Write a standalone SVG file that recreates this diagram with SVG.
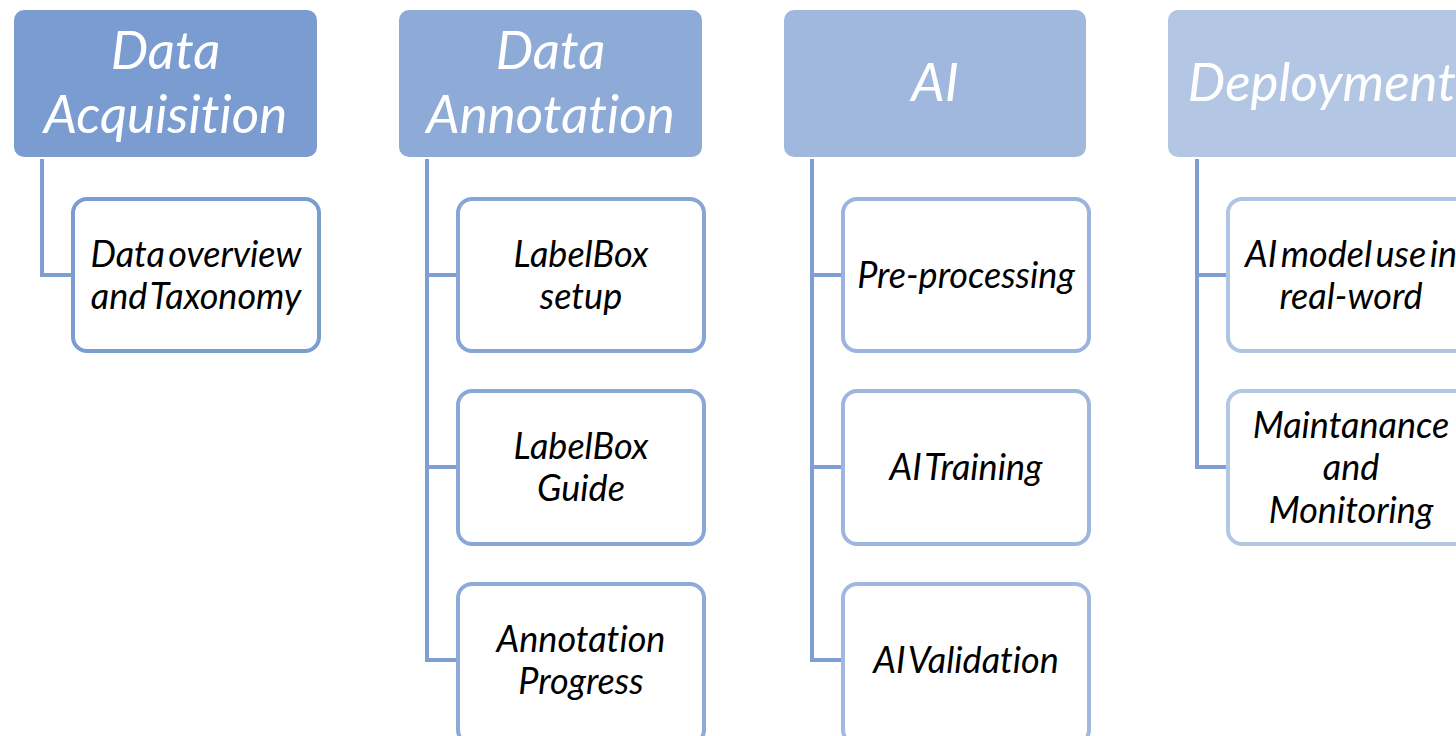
<svg xmlns="http://www.w3.org/2000/svg" width="1456" height="736" viewBox="0 0 1456 736">
<style>
.hd{stroke:none}
.ch{fill:#ffffff;stroke-width:4}
.ht{font-family:Lato,"Open Sans",sans-serif;font-style:italic;font-size:53px;fill:#ffffff;text-anchor:middle;font-variant-ligatures:none}
.ct{font-family:Lato,"Open Sans",sans-serif;font-style:italic;font-size:36px;fill:#000000;text-anchor:middle;word-spacing:-5px;font-variant-ligatures:none}
.cn{fill:none;stroke:#7f9fd2;stroke-width:4;stroke-linejoin:miter}
</style>
<rect width="1456" height="736" fill="#ffffff"/>
<g id="connectors">
<path class="cn" d="M42,159 V275 H73"/>
<path class="cn" d="M427,159 V660 H458 M427,275 H458 M427,467 H458"/>
<path class="cn" d="M812,159 V660 H843 M812,275 H843 M812,467 H843"/>
<path class="cn" d="M1197,159 V467 H1228 M1197,275 H1228"/>
</g>
<g id="h1"><rect class="hd" x="14" y="10" width="303" height="147" rx="10" fill="#7a9cd0"/>
<text class="ht" x="165.5" y="69">Data</text><text class="ht" x="165.5" y="133">Acquisition</text></g>
<g id="h2"><rect class="hd" x="399" y="10" width="303" height="147" rx="10" fill="#8eaad6"/>
<text class="ht" x="550.5" y="69">Data</text><text class="ht" x="550.5" y="133">Annotation</text></g>
<g id="h3"><rect class="hd" x="784" y="10" width="302" height="147" rx="10" fill="#a1b8de"/>
<text class="ht" x="935" y="101">AI</text></g>
<g id="h4"><rect class="hd" x="1168" y="10" width="303" height="147" rx="10" fill="#b3c7e5"/>
<text class="ht" x="1322" y="101">Deployment</text></g>
<g id="c1"><rect class="ch" x="73" y="199" width="246" height="152" rx="14" stroke="#7b9cd1"/>
<text class="ct" x="196" y="267">Data overview</text><text class="ct" x="196" y="309">and Taxonomy</text></g>
<g id="c2a"><rect class="ch" x="458" y="199" width="246" height="152" rx="14" stroke="#87a5d5"/>
<text class="ct" x="581" y="267">LabelBox</text><text class="ct" x="581" y="309">setup</text></g>
<g id="c2b"><rect class="ch" x="458" y="391" width="246" height="153" rx="14" stroke="#8aa8d7"/>
<text class="ct" x="581" y="459">LabelBox</text><text class="ct" x="581" y="501">Guide</text></g>
<g id="c2c"><rect class="ch" x="458" y="584" width="246" height="160" rx="14" stroke="#8eabd8"/>
<text class="ct" x="581" y="652">Annotation</text><text class="ct" x="581" y="694">Progress</text></g>
<g id="c3a"><rect class="ch" x="843" y="199" width="246" height="152" rx="14" stroke="#9bb4dd"/>
<text class="ct" x="966" y="288">Pre-processing</text></g>
<g id="c3b"><rect class="ch" x="843" y="391" width="246" height="153" rx="14" stroke="#9eb6de"/>
<text class="ct" x="966" y="480">AI Training</text></g>
<g id="c3c"><rect class="ch" x="843" y="584" width="246" height="160" rx="14" stroke="#a2b9df"/>
<text class="ct" x="966" y="673">AI Validation</text></g>
<g id="c4a"><rect class="ch" x="1228" y="199" width="246" height="152" rx="14" stroke="#b0c4e4"/>
<text class="ct" x="1351" y="267">AI model use in</text><text class="ct" x="1351" y="309">real-word</text></g>
<g id="c4b"><rect class="ch" x="1228" y="391" width="246" height="153" rx="14" stroke="#b3c7e5"/>
<text class="ct" x="1351" y="438">Maintanance</text><text class="ct" x="1351" y="480">and</text><text class="ct" x="1351" y="523">Monitoring</text></g>
</svg>
